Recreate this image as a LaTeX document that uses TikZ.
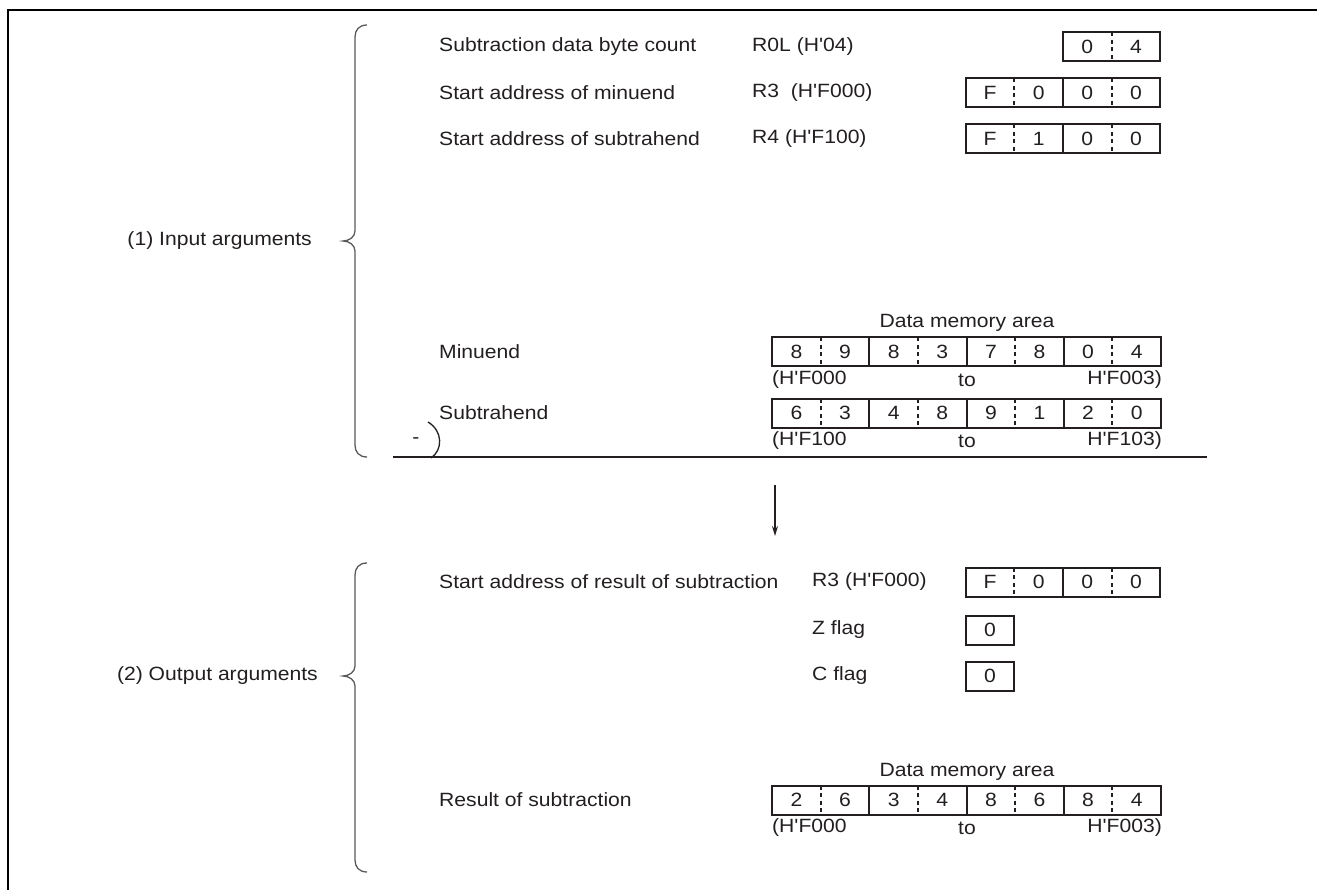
\documentclass[tikz,border=0pt]{standalone}
\usepackage{fontspec}
\setmainfont{Liberation Sans}[Ligatures=TeXOff,FakeStretch=1.1]
\usetikzlibrary{arrows.meta}
\definecolor{ink}{HTML}{231F20}
\tikzset{
  lbl/.style={anchor=west,inner sep=0pt,text=ink,font=\fontsize{19.2}{23}\selectfont},
  lble/.style={anchor=east,inner sep=0pt,text=ink,font=\fontsize{19.2}{23}\selectfont},
  ctr/.style={inner sep=0pt,text=ink,font=\fontsize{19.2}{23}\selectfont},
  boxline/.style={draw=ink,line width=2pt},
  halfline/.style={draw=ink,line width=2pt,dash pattern=on 4pt off 3.5pt},
  bracel/.style={draw=black!65,line width=1.3pt},
  framel/.style={draw=black,line width=2.5pt},
  thinl/.style={draw=ink,line width=1.3pt},
}
% #1 name, #2 x0, #3 y centre, #4 digits, #5 number of bytes
\newcommand{\byterow}[5]{%
  \foreach \d [count=\i from 0] in {#4} {\node[ctr] (#1-\i) at ({#2+24.3+48.6*\i},#3) {\d};}
  \foreach \j in {1,...,#5} {%
    \draw[halfline] ({#2+97.2*\j-48.6},{#3-14.5}) -- ({#2+97.2*\j-48.6},{#3+14.5});
    \ifnum\j<#5 \draw[boxline] ({#2+97.2*\j},{#3-14.5}) -- ({#2+97.2*\j},{#3+14.5});\fi
  }
  \draw[boxline] (#2,{#3-14.5}) rectangle ({#2+97.2*#5},{#3+14.5});
}
% #1 top, #2 tip, #3 bottom
\newcommand{\bracedraw}[3]{%
  \draw[bracel] (367,#1) .. controls (359,#1) and (355,#1+5) .. (355,#1+12)
    -- (355,#2-10) .. controls (355,#2-4) and (349,#2) .. (343,#2)
    .. controls (349,#2) and (355,#2+4) .. (355,#2+10)
    -- (355,#3-12) .. controls (355,#3-5) and (359,#3) .. (367,#3);
}
\begin{document}
\begin{tikzpicture}[x=1pt,y=-1pt]
\useasboundingbox (0,0) rectangle (1317,890);
% frame
\draw[framel] (8,890) -- (8,10) -- (1317,10);

% ---------- input section ----------
\bracedraw{25}{241}{457}
\node[lble] (inarg) at (312,241) {(1) Input arguments};

\node[lbl] (t1) at (439,47) {Subtraction data byte count};
\node[lbl] (r1) at (752,47) {R0L (H'04)};
\byterow{b1}{1063}{47}{0,4}{1}

\node[lbl] (t2) at (439,93) {Start address of minuend};
\node[lbl] (r2) at (752,93) {R3\ \ (H'F000)};
\byterow{b2}{965.8}{93}{F,0,0,0}{2}

\node[lbl] (t3) at (439,139) {Start address of subtrahend};
\node[lbl] (r3) at (752,139) {R4 (H'F100)};
\byterow{b3}{965.8}{139}{F,1,0,0}{2}

\node[ctr] (dm1) at (967,323) {Data memory area};
\node[lbl] (t4) at (439,352) {Minuend};
\byterow{b4}{772.2}{352}{8,9,8,3,7,8,0,4}{4}
\node[lbl] (a4) at (772,380) {(H'F000};
\node[ctr] (to4) at (967,380) {to};
\node[lble] (e4) at (1162,380) {H'F003)};

\node[lbl] (t5) at (439,413) {Subtrahend};
\byterow{b5}{772.2}{413}{6,3,4,8,9,1,2,0}{4}
\node[lbl] (a5) at (772,441) {(H'F100};
\node[ctr] (to5) at (967,441) {to};
\node[lble] (e5) at (1162,441) {H'F103)};

\node[ctr] (minus) at (416,441) {-};
\draw[thinl] (428,422) .. controls (443,431) and (443,450) .. (431,458);
\draw[thinl] (393,457) -- (1207,457);

% arrow
\coordinate (arrA) at (775,485);
\coordinate (arrB) at (775,536);
\draw[thinl,-{Stealth[length=10pt,width=6pt]}] (arrA) -- (arrB);

% ---------- output section ----------
\bracedraw{563}{676}{872}
\node[lble] (outarg) at (318,676) {(2) Output arguments};

\node[lbl] (t6) at (439,582) {Start address of result of subtraction};
\node[lbl] (r6) at (812,582) {R3 (H'F000)};
\byterow{b6}{965.8}{582}{F,0,0,0}{2}

\node[lbl] (zf) at (812,630) {Z flag};
\node[ctr] (zv) at (990.1,630) {0};
\draw[boxline] (965.8,615.5) rectangle (1014.4,644.5);

\node[lbl] (cf) at (812,676) {C flag};
\node[ctr] (cv) at (990.1,676) {0};
\draw[boxline] (965.8,661.5) rectangle (1014.4,690.5);

\node[ctr] (dm2) at (967,772) {Data memory area};
\node[lbl] (t7) at (439,800) {Result of subtraction};
\byterow{b7}{772.2}{800}{2,6,3,4,8,6,8,4}{4}
\node[lbl] (a7) at (772,828) {(H'F000};
\node[ctr] (to7) at (967,828) {to};
\node[lble] (e7) at (1162,828) {H'F003)};
\end{tikzpicture}
\end{document}
